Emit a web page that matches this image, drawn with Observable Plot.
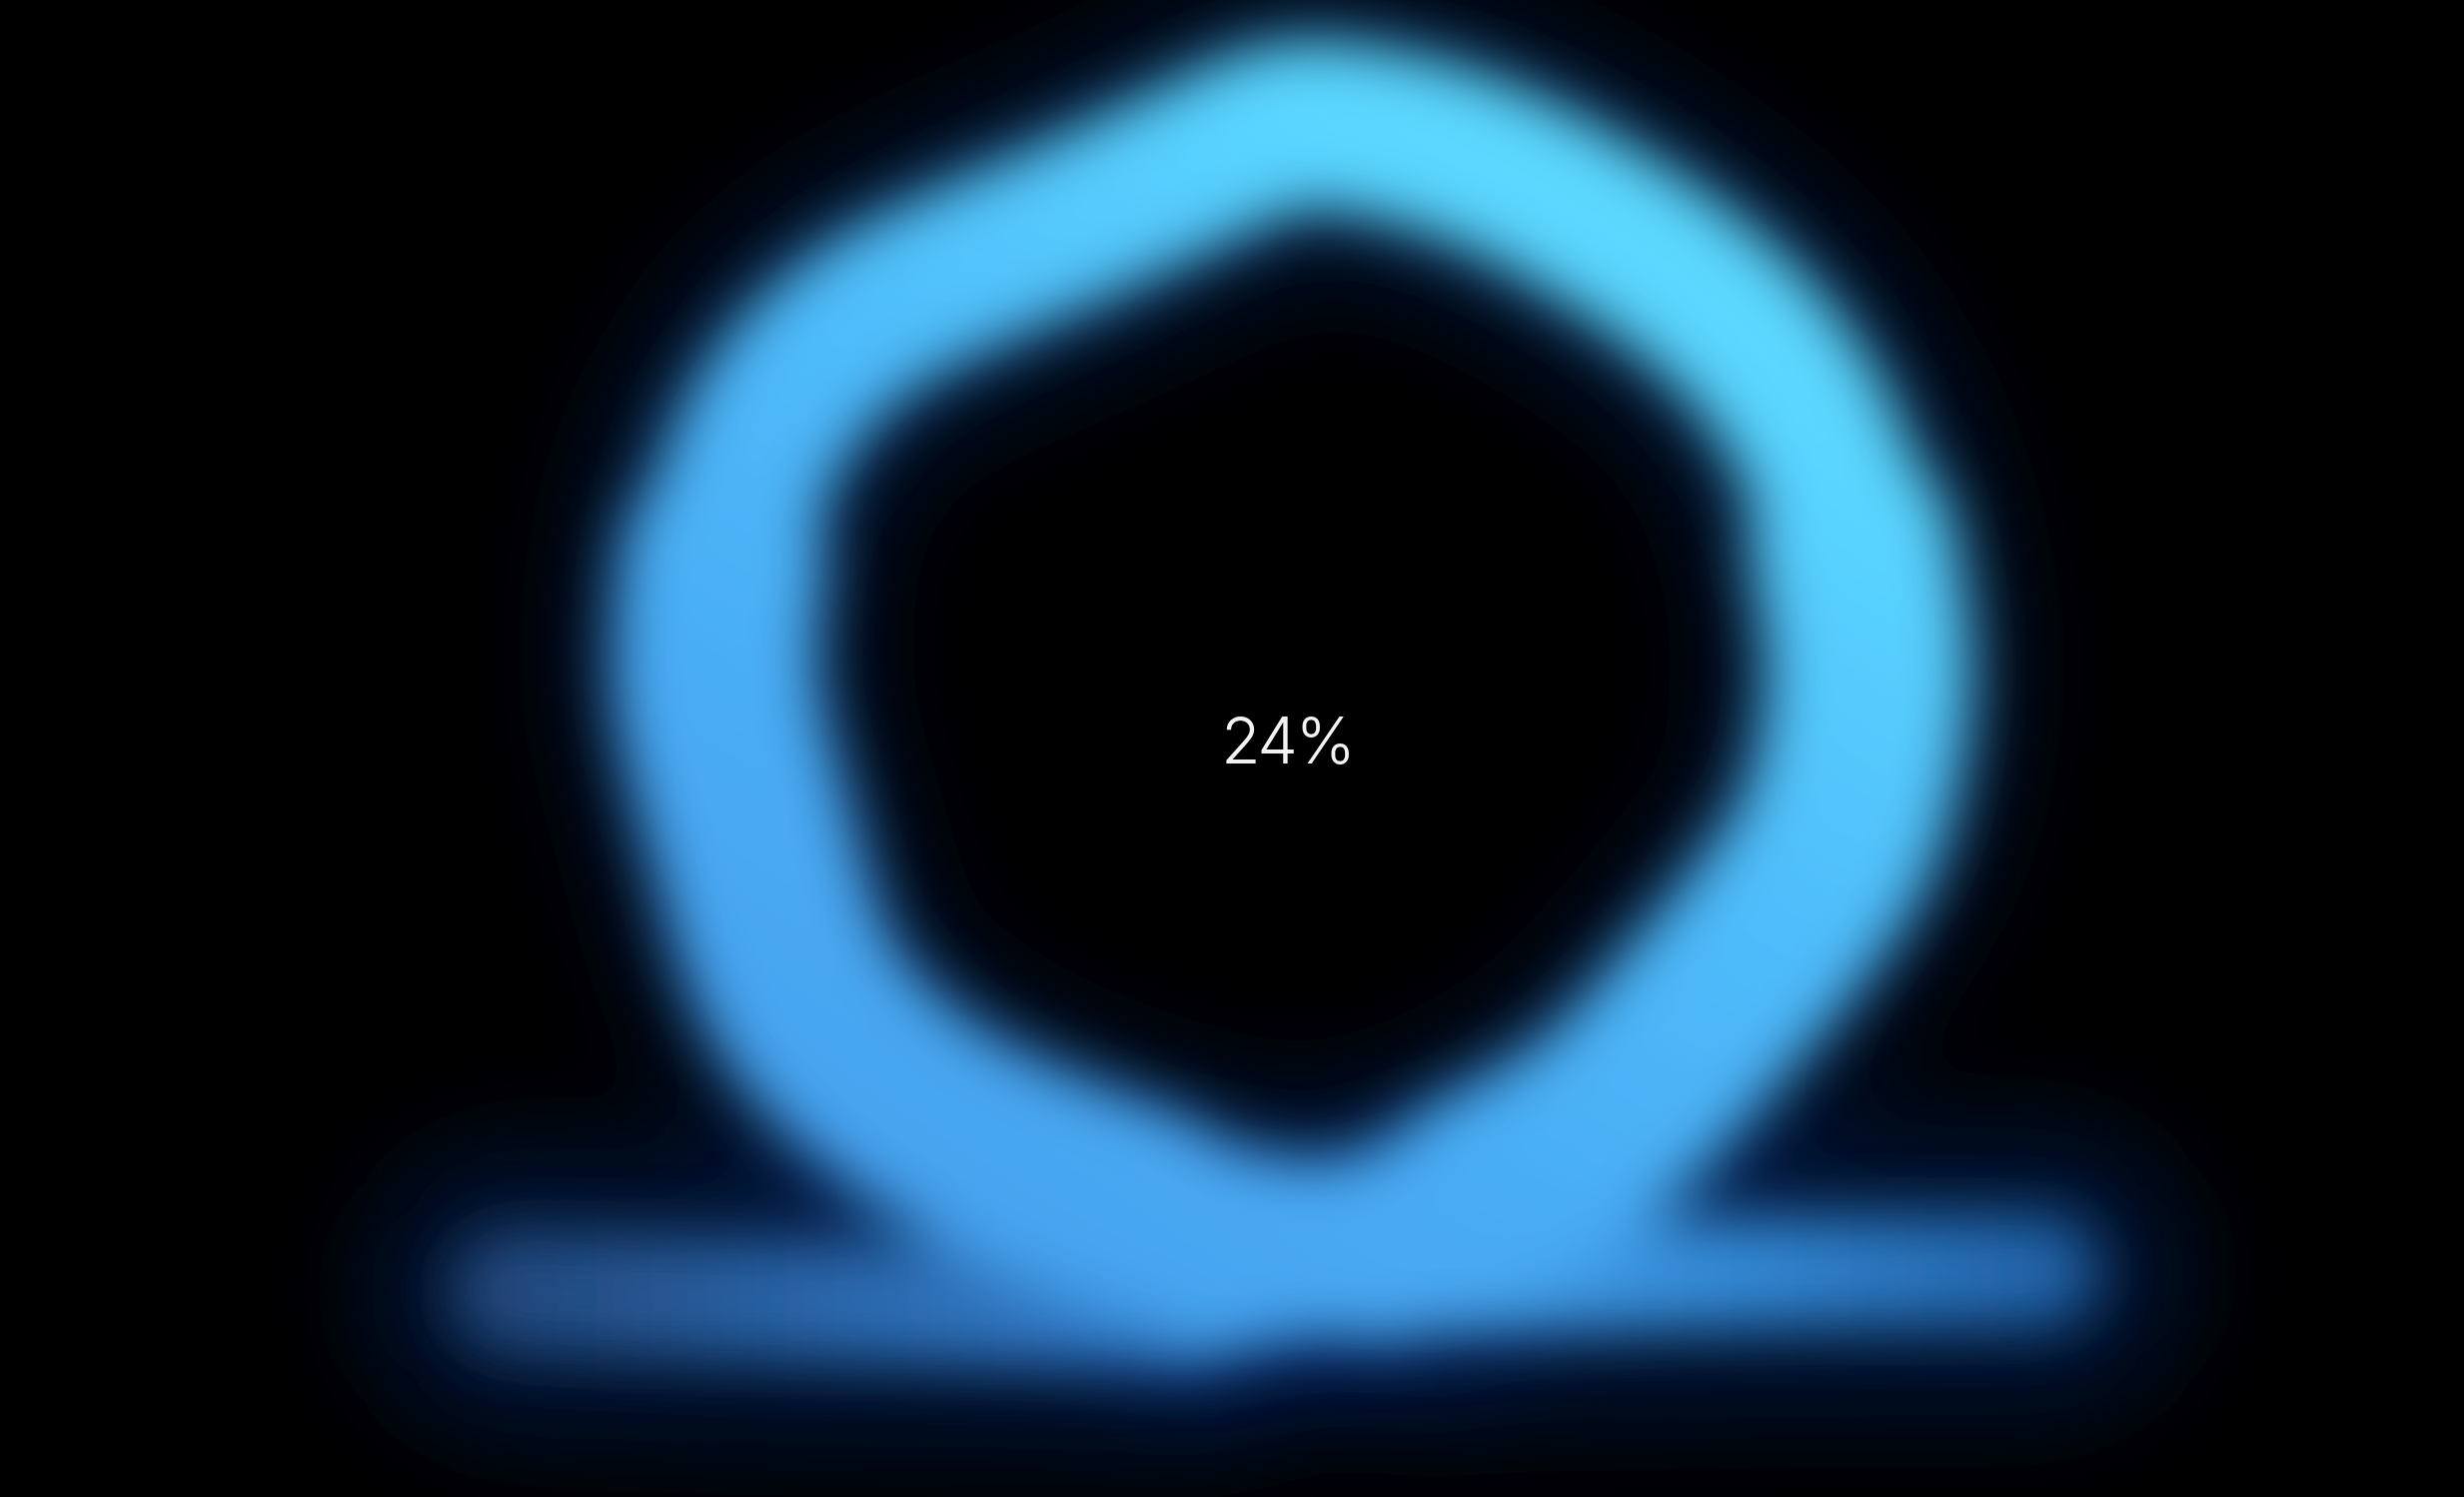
<!DOCTYPE html>
<html>
<head>
<meta charset="utf-8">
<script src="https://cdn.jsdelivr.net/npm/d3@7"></script>
<script src="https://cdn.jsdelivr.net/npm/@observablehq/plot@0.6"></script>
<style>
  html, body { margin: 0; padding: 0; background: #000; overflow: hidden; }
  #chart svg { display: block; }
</style>
</head>
<body>
<div id="chart"></div>
<script>
// Omega centreline (units: 1568 x 952 grid)
const loopX = [880, 827, 729, 592, 515, 477, 455, 460, 478, 510, 556, 615, 680, 745, 822, 885, 950, 1013, 1070, 1118, 1155, 1178, 1189, 1170, 1130, 1091, 1023, 940, 860, 780];
const loopY = [800, 792, 770, 710, 637, 528, 430, 355, 292, 240, 200, 170, 142, 112, 80,  86,  107, 140,  178,  222,  278,  345,  430,  528,  590,  637,  710,  760, 790, 805];
// lower parts of the two sides (drawn a little heavier)
const leftSideX  = [729, 592, 515, 477, 455, 460];
const leftSideY  = [770, 710, 637, 528, 430, 355];
const rightSideX = [1178, 1189, 1170, 1130, 1091, 1023, 940];
const rightSideY = [345,  430,  528,  590,  637,  710,  760];
// Omega feet
const leftFootX  = [325, 520, 760];
const leftFootY  = [821, 827, 830];
const rightFootX = [900, 1100, 1300];
const rightFootY = [813, 809, 808];
// Progress label
const labelText = ["24%"];
const labelX = [819];
const labelY = [472];

const pts = (xs, ys) => xs.map((x, i) => ({x, y: ys[i]}));
const loop = pts(loopX, loopY);
const leftSide = pts(leftSideX, leftSideY);
const rightSide = pts(rightSideX, rightSideY);
const leftFoot = pts(leftFootX, leftFootY);
const rightFoot = pts(rightFootX, rightFootY);
const labels = labelText.map((t, i) => ({t, x: labelX[i], y: labelY[i]}));

const base = {x: "x", y: "y", strokeLinecap: "round", strokeLinejoin: "round", curve: "catmull-rom"};
const glow = {...base, stroke: "#0a3088", strokeOpacity: 0.36, strokeWidth: 290};

const plot = Plot.plot({
  width: 2466,
  height: 1498,
  margin: 0,
  x: {domain: [0, 1568], axis: null},
  y: {domain: [952, 0], axis: null},
  style: {background: "#000", overflow: "visible"},
  marks: [
    // soft navy halo
    Plot.line(leftFoot, glow),
    Plot.line(rightFoot, glow),
    Plot.line(loop, glow),
    // glowing strokes
    Plot.line(leftFoot, {...base, stroke: "url(#leftFootGrad)", strokeWidth: 122}),
    Plot.line(rightFoot, {...base, stroke: "url(#rightFootGrad)", strokeWidth: 112}),
    Plot.line(loop, {...base, stroke: "url(#loopGrad)", strokeWidth: 170}),
    Plot.line(leftSide, {...base, stroke: "url(#loopGrad)", strokeWidth: 205}),
    Plot.line(rightSide, {...base, stroke: "url(#loopGrad)", strokeWidth: 205}),
    Plot.text(labels, {x: "x", y: "y", text: "t", fill: "#f2f2f4", fontSize: 64, fontWeight: 300, fontFamily: "Inter, 'Liberation Sans', sans-serif", textAnchor: "middle", lineAnchor: "middle"})
  ]
});

const NS = "http://www.w3.org/2000/svg";
const defs = document.createElementNS(NS, "defs");
defs.innerHTML = `
  <linearGradient id="loopGrad" gradientUnits="userSpaceOnUse" x1="1900" y1="0" x2="1000" y2="1400">
    <stop offset="0" stop-color="#62e0ff"/>
    <stop offset="0.25" stop-color="#5ad6ff"/>
    <stop offset="0.5" stop-color="#4fbdfb"/>
    <stop offset="0.75" stop-color="#49abf4"/>
    <stop offset="1" stop-color="#45a0ee"/>
  </linearGradient>
  <linearGradient id="leftFootGrad" gradientUnits="userSpaceOnUse" x1="480" y1="0" x2="1300" y2="0">
    <stop offset="0" stop-color="#22477a"/>
    <stop offset="0.4" stop-color="#2966aa"/>
    <stop offset="1" stop-color="#3a8ee0"/>
  </linearGradient>
  <linearGradient id="rightFootGrad" gradientUnits="userSpaceOnUse" x1="1400" y1="0" x2="2100" y2="0">
    <stop offset="0" stop-color="#4aaaf4"/>
    <stop offset="0.5" stop-color="#3288d4"/>
    <stop offset="1" stop-color="#1f5ea2"/>
  </linearGradient>
  <filter id="blurBig" filterUnits="userSpaceOnUse" x="-600" y="-600" width="3700" height="2700">
    <feGaussianBlur stdDeviation="55"/>
  </filter>
  <filter id="blurSmall" filterUnits="userSpaceOnUse" x="-600" y="-600" width="3700" height="2700">
    <feGaussianBlur stdDeviation="30"/>
  </filter>`;
plot.insertBefore(defs, plot.firstChild);

// blur the halo marks and the stroke marks each as one layer
const lines = [...plot.querySelectorAll('g[aria-label="line"]')];
const glowLayer = document.createElementNS(NS, "g");
const strokeLayer = document.createElementNS(NS, "g");
glowLayer.setAttribute("filter", "url(#blurBig)");
strokeLayer.setAttribute("filter", "url(#blurSmall)");
lines[0].parentNode.insertBefore(glowLayer, lines[0]);
glowLayer.after(strokeLayer);
lines.forEach((g, i) => (i < 3 ? glowLayer : strokeLayer).appendChild(g));
plot.querySelectorAll('g[aria-label="text"] text').forEach(t => t.style.letterSpacing = "-2px");

document.getElementById("chart").appendChild(plot);
</script>
</body>
</html>
